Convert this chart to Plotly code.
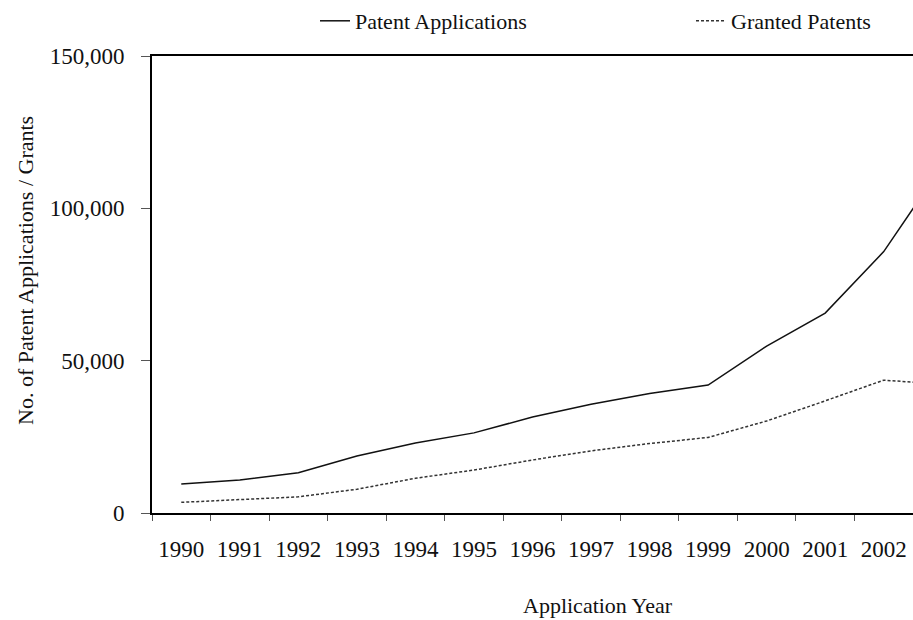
import plotly.graph_objects as go

years = ["1990", "1991", "1992", "1993", "1994", "1995", "1996", "1997",
         "1998", "1999", "2000", "2001", "2002", "2003"]
applications = [9500, 10800, 13200, 18700, 23000, 26300, 31500, 35700,
                39200, 42000, 54800, 65600, 85800, 114000]
granted = [3500, 4300, 5300, 7800, 11400, 14100, 17400, 20400,
           22800, 24800, 30200, 36800, 43600, 42300]
y_ticks = [0, 50000, 100000, 150000]

FONT = "Liberation Serif, Times New Roman, serif"

W, H = 913, 620
L, T, B = 152, 56, 107
PW, PH = W - L, H - T - B
Y0 = T + PH  # pixel y of value 0

fig = go.Figure()
fig.add_trace(go.Scatter(x=years, y=applications, mode="lines",
                         name="Patent Applications", legend="legend",
                         line=dict(color="#111111", width=1.5)))
fig.add_trace(go.Scatter(x=years, y=granted, mode="lines",
                         name="Granted Patents", legend="legend2",
                         line=dict(color="#333333", width=1.5, dash="3px,2px")))

legend_common = dict(orientation="h", xref="container", yref="container",
                     yanchor="top", xanchor="left", y=1.0,
                     font=dict(size=22), bgcolor="rgba(0,0,0,0)")

fig.update_layout(
    width=W, height=H,
    margin=dict(l=L, r=0, t=T, b=B, autoexpand=False),
    paper_bgcolor="white", plot_bgcolor="white",
    font=dict(family=FONT, size=22, color="#111111"),
    showlegend=True,
    legend=dict(x=315 / W, **legend_common),
    legend2=dict(x=691 / W, **legend_common),
    annotations=[
        dict(text="No. of Patent Applications / Grants", xref="paper", yref="paper",
             x=(25 - L) / PW, y=(Y0 - 271) / PH,
             xanchor="center", yanchor="middle", textangle=-90, showarrow=False,
             font=dict(size=22)),
        dict(text="Application Year", xref="paper", yref="paper",
             x=(598 - L) / PW, y=-(605 - Y0) / PH,
             xanchor="center", yanchor="middle", showarrow=False,
             font=dict(size=22)),
    ],
)

fig.update_xaxes(type="category", range=[-0.5, 12.5], tickson="boundaries",
                 ticks="outside", ticklen=6, tickcolor="#555555", tickwidth=1,
                 showline=True, linecolor="black", linewidth=2, mirror=True,
                 showgrid=False, zeroline=False, ticklabelstandoff=14,
                 tickfont=dict(size=23))
fig.update_yaxes(range=[0, 150000], tickvals=y_ticks, tickformat=",",
                 ticks="outside", ticklen=9, tickcolor="#555555", tickwidth=1,
                 showline=True, linecolor="black", linewidth=2,
                 showgrid=False, zeroline=False, ticklabelstandoff=12,
                 tickfont=dict(size=23))

fig.write_html("out.html",
               config={"displayModeBar": False},
               post_script="document.body.style.margin='0';"
                           "document.body.style.overflow='hidden';")
